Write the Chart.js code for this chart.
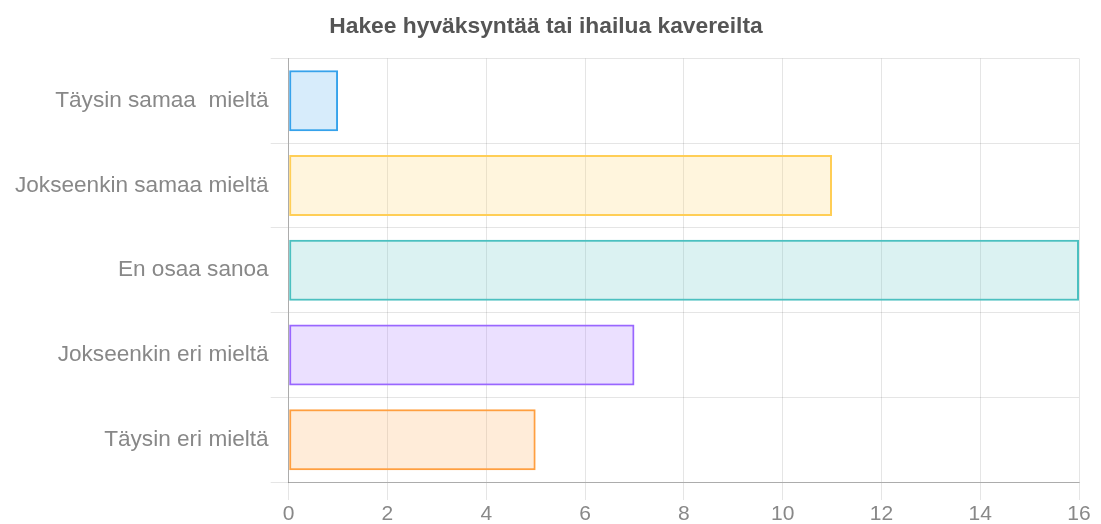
<!DOCTYPE html>
<html>
<head>
<meta charset="utf-8">
<script src="https://cdn.jsdelivr.net/npm/chart.js@4/dist/chart.umd.min.js"></script>
<style>
  html, body { margin: 0; padding: 0; background: #fff; }
  #wrap { width: 1101px; height: 524px; }
</style>
</head>
<body>
<div id="wrap"><canvas id="chart" width="1101" height="524"></canvas></div>
<script>
const categories = ['Täysin samaa  mieltä', 'Jokseenkin samaa mieltä', 'En osaa sanoa', 'Jokseenkin eri mieltä', 'Täysin eri mieltä'];
const values = [1, 11, 16, 7, 5];
const fills = ['rgba(54, 162, 235, 0.2)', 'rgba(255, 206, 86, 0.2)', 'rgba(75, 192, 192, 0.2)', 'rgba(153, 102, 255, 0.2)', 'rgba(255, 159, 64, 0.2)'];
const borders = ['rgba(54, 162, 235, 1)', 'rgba(255, 206, 86, 1)', 'rgba(75, 192, 192, 1)', 'rgba(153, 102, 255, 1)', 'rgba(255, 159, 64, 1)'];
const chartTitle = 'Hakee hyväksyntää tai ihailua kavereilta';

const ctx = document.getElementById('chart').getContext('2d');

new Chart(ctx, {
    type: 'bar',
    data: {
        labels: categories,
        datasets: [{
            data: values,
            backgroundColor: fills,
            borderColor: borders,
            borderWidth: 2,
            borderSkipped: false,
        }],
    },
    options: {
        indexAxis: 'y',
        responsive: false,
        animation: false,
        layout: {
            padding: { left: 13, right: 22, top: 0, bottom: -5 },
        },
        plugins: {
            legend: { display: false },
            tooltip: { enabled: false },
            title: {
                display: true,
                text: chartTitle,
                color: '#555',
                font: { family: 'Liberation Sans', size: 22.8, weight: 'bold', lineHeight: 1.2 },
                padding: { top: 13, bottom: 18 },
            },
        },
        scales: {
            x: {
                min: 0,
                max: 16,
                ticks: {
                    stepSize: 2,
                    color: '#888',
                    font: { family: 'Liberation Sans', size: 21, lineHeight: 1 },
                    padding: 4,
                },
                grid: { color: 'rgba(0,0,0,0.1)', tickLength: 18 },
                border: { color: 'rgba(0,0,0,0.25)' },
            },
            y: {
                ticks: {
                    color: '#888',
                    font: { family: 'Liberation Sans', size: 22.6 },
                    padding: 2,
                },
                grid: { color: 'rgba(0,0,0,0.1)', tickLength: 18 },
                border: { color: 'rgba(0,0,0,0.25)' },
            },
        },
    },
});
</script>
</body>
</html>
